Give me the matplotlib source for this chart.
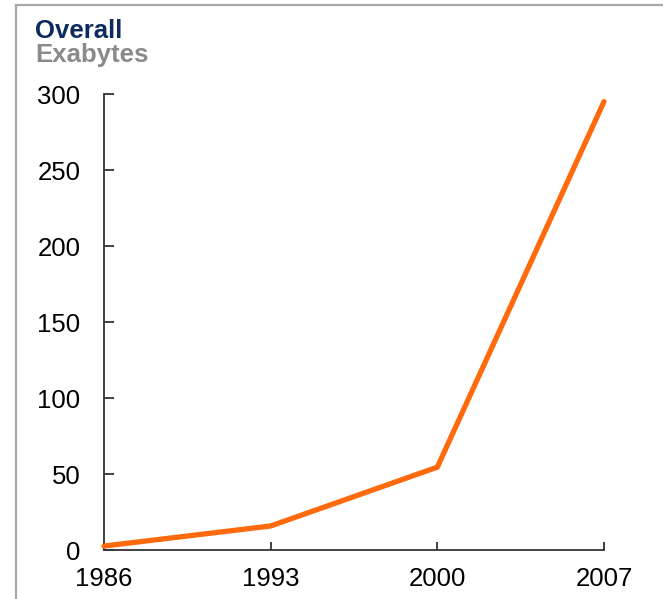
import matplotlib
matplotlib.use("Agg")
import matplotlib.pyplot as plt
from matplotlib.lines import Line2D

plt.rcParams['font.family'] = ['Liberation Sans', 'DejaVu Sans']

# storage capacity by year
years = [1986, 1993, 2000, 2007]
exabytes = [2.6, 15.8, 54.5, 295]
year_labels = ['1986', '1993', '2000', '2007']
y_ticks = [0, 50, 100, 150, 200, 250, 300]

fig = plt.figure(figsize=(6.63, 5.99), dpi=100)
ax = fig.add_axes([104/663, 1 - 550/599, 500/663, 456/599])

ax.plot(years, exabytes, color='#ff6a0d', lw=3.8, solid_capstyle='round',
        solid_joinstyle='miter', clip_on=False, zorder=3)

ax.set_xlim(1986, 2007)
ax.set_ylim(0, 300)
ax.set_xticks(years)
ax.set_xticklabels(year_labels)
ax.set_yticks(y_ticks)

for s in ['top', 'right']:
    ax.spines[s].set_visible(False)
for s in ['left', 'bottom']:
    ax.spines[s].set_color('#333333')
    ax.spines[s].set_linewidth(1.3)

ax.tick_params(axis='y', direction='in', length=7, width=1.3, color='#333333',
               labelsize=18.5, pad=17)
ax.tick_params(axis='x', direction='in', length=6, width=1.3, color='#333333',
               labelsize=18.5, pad=12)

# frame lines at top and left
fig.add_artist(Line2D([16/663, 1], [1 - 5/599, 1 - 5/599], color='#a8a8a8', lw=1.6,
                      transform=fig.transFigure))
fig.add_artist(Line2D([16/663, 16/663], [0, 1 - 5/599], color='#a8a8a8', lw=1.6,
                      transform=fig.transFigure))

fig.text(35/663, 1 - 31/599, 'Overall', color='#0d2b5e', fontsize=18.5,
         fontweight='bold', va='center', ha='left')
fig.text(35/663, 1 - 55/599, 'Exabytes', color='#8a8a8a', fontsize=18.5,
         fontweight='bold', va='center', ha='left')

fig.savefig('out.png', dpi=100)
